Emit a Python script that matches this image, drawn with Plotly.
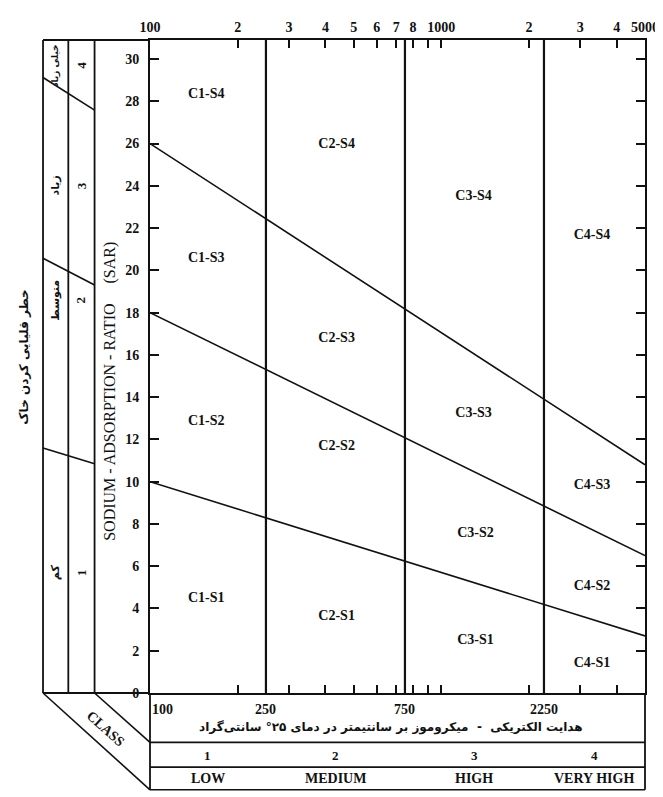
import numpy as np
import plotly.graph_objects as go

# ---------------- data ----------------
sar_ticks = list(range(0, 31, 2))
top_tick_ec = [100, 200, 300, 400, 500, 600, 700, 800, 900, 1000, 2000, 3000, 4000, 5000]
top_tick_text = ["100", "2", "3", "4", "5", "6", "7", "8", "", "1000", "2", "3", "4", "5000"]

ec_limits = [100, 5000]
class_bounds_ec = [250, 750, 2250]
bottom_label_ec = [100, 250, 750, 2250]
bottom_label_text = ["100", "250", "750", "2250"]

# sodium hazard boundary lines (SAR at EC=100 and EC=5000)
line_s4_s3 = [26, 10.8]
line_s3_s2 = [18, 6.5]
line_s2_s1 = [10, 2.7]

class_numbers = ["1", "2", "3", "4"]
class_names = ["LOW", "MEDIUM", "HIGH", "VERY HIGH"]

region_labels = ["C1-S4", "C2-S4", "C3-S4", "C4-S4",
                 "C1-S3", "C2-S3", "C3-S3", "C4-S3",
                 "C1-S2", "C2-S2", "C3-S2", "C4-S2",
                 "C1-S1", "C2-S1", "C3-S1", "C4-S1"]
region_ec = [156, 437, 1290, 3290,
             156, 437, 1290, 3290,
             156, 437, 1310, 3290,
             156, 437, 1310, 3290]
region_sar = [28.3, 25.95, 23.5, 21.65,
              20.55, 16.8, 13.25, 9.8,
              12.85, 11.65, 7.55, 5.05,
              4.45, 3.6, 2.5, 1.4]

hazard_numbers = ["4", "3", "2", "1"]
hazard_names = ["خیلی زیاد", "زیاد", "متوسط", "کم"]
hazard_label_sar = [29.7, 24.0, 18.6, 5.7]
hazard_name_sizes = [9, 11, 11, 11]

axis_title = "SODIUM - ADSORPTION - RATIO\u00a0\u00a0\u00a0\u00a0\u00a0(SAR)"
panel_title = "خطر قلیایی کردن خاک"
ec_title = "هدایت الکتریکی  -  میکروموز بر سانتیمتر در دمای ۲۵° سانتی‌گراد"

# ---------------- layout geometry ----------------
W, H = 663, 797
L, R, T, B = 142, 651, 24, 685
PW, PH = R - L, B - T
Y_MAX = PH / 21.39
INK = "#111111"
SERIF = "Liberation Serif"
ARABIC = "DejaVu Sans"


def px(x):
    return (x - L) / PW


def py(y):
    return (B - y) / PH


fig = go.Figure()

# class division lines
for ec in class_bounds_ec:
    fig.add_trace(go.Scatter(x=[ec, ec], y=[0, Y_MAX], mode="lines",
                             line=dict(color=INK, width=2.2), hoverinfo="skip",
                             showlegend=False))

# sodium hazard boundaries
for ys in (line_s4_s3, line_s3_s2, line_s2_s1):
    fig.add_trace(go.Scatter(x=ec_limits, y=ys, mode="lines",
                             line=dict(color=INK, width=1.6), hoverinfo="skip",
                             showlegend=False))

# region labels
fig.add_trace(go.Scatter(x=region_ec, y=region_sar, mode="text", text=region_labels,
                         textfont=dict(family=SERIF, size=14, color=INK, weight="bold"),
                         hoverinfo="skip", showlegend=False, cliponaxis=False))

shapes = []


def seg(x0, y0, x1, y1, w=1.6):
    shapes.append(dict(type="line", xref="paper", yref="paper",
                       x0=px(x0), y0=py(y0), x1=px(x1), y1=py(y1),
                       line=dict(color=INK, width=w)))


# left hazard panel
xa, xb, xc = 32, 58, 85
seg(xa, T, L, T, 1.8)
seg(xa, B, L, B, 1.8)
for xv in (xa, xb, xc):
    seg(xv, T, xv, B, 1.8)
seg(xa, 62, xc, 95)
seg(xa, 245, xc, 272)
seg(xa, 437, xc, 453)

# CLASS band
seg(xa, B, L, 783)
seg(xc, B, L, 735)

# bottom table
seg(L, B, L, 783, 1.8)
seg(R, B, R, 783, 1.8)
for yv in (735, 760, 783):
    seg(L, yv, R, yv, 1.6)
for ec in class_bounds_ec:
    shapes.append(dict(type="line", xref="x", yref="paper",
                       x0=np.log10(ec), x1=np.log10(ec), y0=py(735), y1=py(783),
                       line=dict(color=INK, width=1.6)))

annotations = []


def ann(text, x, y, size=12, angle=0, family=SERIF, weight="bold", xref="paper", yref="paper",
        xanchor="center"):
    annotations.append(dict(text=text, x=x, y=y, xref=xref, yref=yref, showarrow=False,
                            textangle=angle, xanchor=xanchor, yanchor="middle",
                            font=dict(family=family, size=size, color=INK, weight=weight)))


# bottom EC labels
for ec, t in zip(bottom_label_ec, bottom_label_text):
    if ec == bottom_label_ec[0]:
        ann(t, np.log10(ec), py(702), 14, xref="x", xanchor="left")
    else:
        ann(t, np.log10(ec), py(702), 14, xref="x")
ann(ec_title, px(390), py(720), 12, family=ARABIC)

# class table texts
edges = [ec_limits[0]] + class_bounds_ec + [ec_limits[1]]
centers = [np.sqrt(edges[i] * edges[i + 1]) for i in range(4)]
for c, n, nm in zip(centers, class_numbers, class_names):
    ann(n, np.log10(c), py(748), 13, xref="x")
    ann(nm, np.log10(c), py(772), 14, xref="x")

ann("CLASS", px(96), py(721), 14, angle=42)

# left panel texts
for n, nm, s, fs in zip(hazard_numbers, hazard_names, hazard_label_sar, hazard_name_sizes):
    ann(n, px((xb + xc) / 2), s, 13, angle=-90, yref="y")
    ann(nm, px((xa + xb) / 2), s, fs, angle=-90, yref="y", family=ARABIC)
ann(panel_title, px(13), py(345), 12, angle=-90, family=ARABIC)
ann(axis_title, px(101), py(380), 16, angle=-90, weight="normal")

fig.update_layout(
    width=W, height=H,
    margin=dict(l=L, r=W - R, t=T, b=H - B, pad=0),
    paper_bgcolor="white", plot_bgcolor="white",
    shapes=shapes, annotations=annotations, showlegend=False,
    xaxis=dict(type="log", range=[np.log10(ec_limits[0]), np.log10(ec_limits[1])],
               side="top", tickmode="array", tickvals=top_tick_ec, ticktext=top_tick_text,
               ticks="inside", ticklen=8, tickwidth=1.5, tickcolor=INK,
               showline=True, linecolor=INK, linewidth=2, mirror="ticks",
               showgrid=False, zeroline=False,
               tickfont=dict(family=SERIF, size=14, color=INK, weight="bold")),
    yaxis=dict(range=[0, Y_MAX], tickmode="array", tickvals=sar_ticks,
               ticks="inside", ticklen=9, tickwidth=1.5, tickcolor=INK,
               showline=True, linecolor=INK, linewidth=2, mirror="ticks",
               showgrid=False, zeroline=False, ticklabelstandoff=6,
               tickfont=dict(family=SERIF, size=14, color=INK, weight="bold")),
)

fig.write_html("out.html")
